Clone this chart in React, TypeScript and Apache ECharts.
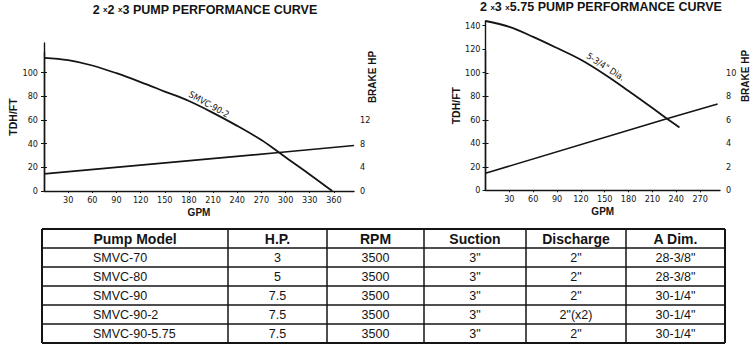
import React, { useEffect, useRef } from "react";
import * as echarts from "echarts";

// ---- Left chart (2 x 2 x 3) ----
const leftPumpGpm = [0, 30, 60, 90, 120, 150, 180, 210, 240, 270, 292, 300, 330, 358];
const leftPumpTdh = [112.5, 110.5, 106, 99.5, 92, 84, 76, 66, 55, 43, 32.5, 28.5, 14, 0];
const leftHpGpm = [0, 292, 385];
const leftHpVals = [2.9, 6.5, 7.7];
const leftXTicks = [30, 60, 90, 120, 150, 180, 210, 240, 270, 300, 330, 360];
const leftYLabels = [0, 20, 40, 60, 80, 100];
const leftHpTicks = [0, 4, 8, 12, 16, 20];
const leftHpLabels = [0, 4, 8, 12];

// ---- Right chart (2 x 3 x 5.75) ----
const rightPumpGpm = [0, 30, 60, 90, 120, 150, 180, 210, 228, 244];
const rightPumpTdh = [144, 139, 130.5, 121, 111, 98.5, 84.5, 70, 61, 53.5];
const rightHpGpm = [0, 228, 292];
const rightHpVals = [1.45, 6.1, 7.35];
const rightXTicks = [30, 60, 90, 120, 150, 180, 210, 240, 270];
const rightHpTicks = [0, 2, 4, 6, 8, 10];

// ---- Table ----
const tableHeaders = ["Pump Model", "H.P.", "RPM", "Suction", "Discharge", "A Dim."];
const pumpModels = ["SMVC-70", "SMVC-80", "SMVC-90", "SMVC-90-2", "SMVC-90-5.75"];
const pumpHp = ["3", "5", "7.5", "7.5", "7.5"];
const pumpRpm = ["3500", "3500", "3500", "3500", "3500"];
const pumpSuction = ['3"', '3"', '3"', '3"', '3"'];
const pumpDischarge = ['2"', '2"', '2"', '2"(x2)', '2"'];
const pumpADim = ['28-3/8"', '28-3/8"', '30-1/4"', '30-1/4"', '30-1/4"'];

const INK = "#141414";
const NARROW = "'Liberation Sans Narrow', 'Arial Narrow', 'DejaVu Sans Condensed', sans-serif";
const SANS = "'Liberation Sans', Arial, Helvetica, sans-serif";

const zip = (xs: number[], ys: number[]) => xs.map((x, i) => [x, ys[i]]);

export default function App() {
  const ref = useRef<HTMLDivElement>(null);
  useEffect(() => {
    if (!ref.current) return;
    const chart = echarts.init(ref.current, undefined, { renderer: "svg" });

    const tickLabel = { color: INK, fontFamily: NARROW, fontSize: 9 };
    const axisLine = { show: true, lineStyle: { color: INK, width: 1.4 } };
    const nameStyle = { color: INK, fontFamily: SANS, fontWeight: "bold" as const, fontSize: 10, verticalAlign: "middle" as const };

    const xBase = (idx: number, max: number, ticks: number[], show: boolean) => ({
      type: "value" as const,
      gridIndex: idx,
      min: 0,
      max,
      show,
      name: show ? "GPM" : "",
      nameLocation: "middle" as const,
      nameGap: 21,
      nameTextStyle: nameStyle,
      axisLine,
      splitLine: { show: false },
      axisTick: { show: true, length: 2, customValues: ticks, lineStyle: { color: INK } },
      axisLabel: { ...tickLabel, margin: 4, customValues: ticks },
    });

    // table graphics
    const colX = [42, 228, 327, 424, 526, 626, 725];
    const rowY = [229, 248, 267, 286, 305, 324, 343];
    const tableCols = [pumpModels, pumpHp, pumpRpm, pumpSuction, pumpDischarge, pumpADim];
    const tableGraphics: any[] = [];
    rowY.forEach((y, i) => {
      const outer = i === 0 || i === rowY.length - 1;
      tableGraphics.push({
        type: "line",
        shape: { x1: colX[0], y1: y, x2: colX[colX.length - 1], y2: y },
        style: { stroke: INK, lineWidth: outer ? 2 : 1.5 },
      });
    });
    colX.forEach((x, i) => {
      const outer = i === 0 || i === colX.length - 1;
      tableGraphics.push({
        type: "line",
        shape: { x1: x, y1: rowY[0], x2: x, y2: rowY[rowY.length - 1] },
        style: { stroke: INK, lineWidth: outer ? 2 : 1.5 },
      });
    });
    tableHeaders.forEach((h, c) => {
      tableGraphics.push({
        type: "text",
        x: (colX[c] + colX[c + 1]) / 2,
        y: (rowY[0] + rowY[1]) / 2 + 0.5,
        style: {
          text: h,
          fill: INK,
          font: `bold 14px ${SANS}`,
          textAlign: "center",
          textVerticalAlign: "middle",
        },
      });
    });
    tableCols.forEach((col, c) => {
      col.forEach((v, r) => {
        tableGraphics.push({
          type: "text",
          x: c === 0 ? 93 : (colX[c] + colX[c + 1]) / 2,
          y: (rowY[r + 1] + rowY[r + 2]) / 2 + 0.5,
          style: {
            text: v,
            fill: INK,
            font: `12.5px ${SANS}`,
            textAlign: c === 0 ? "left" : "center",
            textVerticalAlign: "middle",
          },
        });
      });
    });

    const titleRich = {
      n: { fontFamily: SANS, fontWeight: "bold", fontSize: 12.5, fill: INK, color: INK },
      s: { fontFamily: SANS, fontWeight: "bold", fontSize: 8, fill: INK, color: INK },
    };

    const brakeText = (x: number, y: number) => ({
      type: "text",
      x,
      y,
      rotation: Math.PI / 2,
      style: {
        text: "BRAKE HP",
        fill: INK,
        font: `bold 10px ${SANS}`,
        textAlign: "center",
        textVerticalAlign: "middle",
      },
    });

    const curveLabel = (text: string, coord: number[], rotate: number) => ({
      symbol: "circle",
      symbolSize: 0,
      silent: true,
      label: {
        show: true,
        position: "inside",
        formatter: text,
        rotate,
        color: INK,
        fontFamily: NARROW,
        fontSize: 9,
      },
      data: [{ coord }],
    });

    chart.setOption({
      animation: false,
      backgroundColor: "#ffffff",
      grid: [
        { left: 44, right: 397, top: 43, bottom: 168 },
        { left: 44, right: 397, top: 52, bottom: 168 },
        { left: 485.5, right: 31, top: 21, bottom: 168.7 },
        { left: 485.5, right: 31, top: 51, bottom: 168.7 },
      ],
      xAxis: [
        xBase(0, 385, leftXTicks, true),
        xBase(1, 385, leftXTicks, false),
        xBase(2, 295, rightXTicks, true),
        xBase(3, 295, rightXTicks, false),
      ],
      yAxis: [
        {
          type: "value",
          gridIndex: 0,
          position: "left",
          min: 0,
          max: 125,
          name: "TDH/FT",
          nameLocation: "middle",
          nameGap: 23.5,
          nameRotate: 90,
          nameTextStyle: { ...nameStyle, fontSize: 10.5 },
          axisLine,
          splitLine: { show: false },
          axisTick: { show: true, length: 3, customValues: leftYLabels, lineStyle: { color: INK } },
          axisLabel: { ...tickLabel, margin: 6, customValues: leftYLabels },
        },
        {
          type: "value",
          gridIndex: 1,
          position: "right",
          min: 0,
          max: 23.5,
          axisLine,
          splitLine: { show: false },
          axisTick: { show: true, length: 3, customValues: leftHpTicks, lineStyle: { color: INK } },
          axisLabel: { ...tickLabel, margin: 6, customValues: leftHpLabels },
        },
        {
          type: "value",
          gridIndex: 2,
          position: "left",
          min: 0,
          max: 144,
          interval: 20,
          name: "TDH/FT",
          nameLocation: "middle",
          nameGap: 25.5,
          nameRotate: 90,
          nameTextStyle: { ...nameStyle, fontSize: 10.5 },
          axisLine,
          splitLine: { show: false },
          axisTick: { show: true, length: 3, lineStyle: { color: INK } },
          axisLabel: { ...tickLabel, margin: 5 },
        },
        {
          type: "value",
          gridIndex: 3,
          position: "right",
          min: 0,
          max: 11.86,
          axisLine,
          splitLine: { show: false },
          axisTick: { show: true, length: 3, customValues: rightHpTicks, lineStyle: { color: INK } },
          axisLabel: { ...tickLabel, margin: 6, customValues: rightHpTicks },
        },
      ],
      series: [
        {
          type: "line",
          xAxisIndex: 0,
          yAxisIndex: 0,
          data: zip(leftPumpGpm, leftPumpTdh),
          smooth: 0.35,
          showSymbol: false,
          lineStyle: { color: INK, width: 1.8 },
          markPoint: curveLabel("SMVC-90-2", [205, 73], -29),
        },
        {
          type: "line",
          xAxisIndex: 1,
          yAxisIndex: 1,
          data: zip(leftHpGpm, leftHpVals),
          showSymbol: false,
          lineStyle: { color: INK, width: 1.6 },
        },
        {
          type: "line",
          xAxisIndex: 2,
          yAxisIndex: 2,
          data: zip(rightPumpGpm, rightPumpTdh),
          smooth: 0.35,
          showSymbol: false,
          lineStyle: { color: INK, width: 1.8 },
          markPoint: curveLabel('5-3/4" Dia.', [151, 105], -33),
        },
        {
          type: "line",
          xAxisIndex: 3,
          yAxisIndex: 3,
          data: zip(rightHpGpm, rightHpVals),
          showSymbol: false,
          lineStyle: { color: INK, width: 1.6 },
        },
      ],
      graphic: [
        {
          type: "text",
          x: 205,
          y: 9.5,
          style: {
            text: "{n|2 }{s|x}{n|2 }{s|x}{n|3 PUMP PERFORMANCE CURVE}",
            rich: titleRich,
            textAlign: "center",
            textVerticalAlign: "middle",
          },
        },
        {
          type: "text",
          x: 601,
          y: 7,
          style: {
            text: "{n|2 }{s|x}{n|3 }{s|x}{n|5.75 PUMP PERFORMANCE CURVE}",
            rich: titleRich,
            textAlign: "center",
            textVerticalAlign: "middle",
          },
        },
        brakeText(372, 77),
        brakeText(745, 76),
        ...tableGraphics,
      ],
    });
    return () => chart.dispose();
  }, []);
  return (
    <div
      ref={ref}
      style={{ position: "absolute", left: 0, top: 0, width: 751, height: 359, background: "#fff" }}
    />
  );
}
